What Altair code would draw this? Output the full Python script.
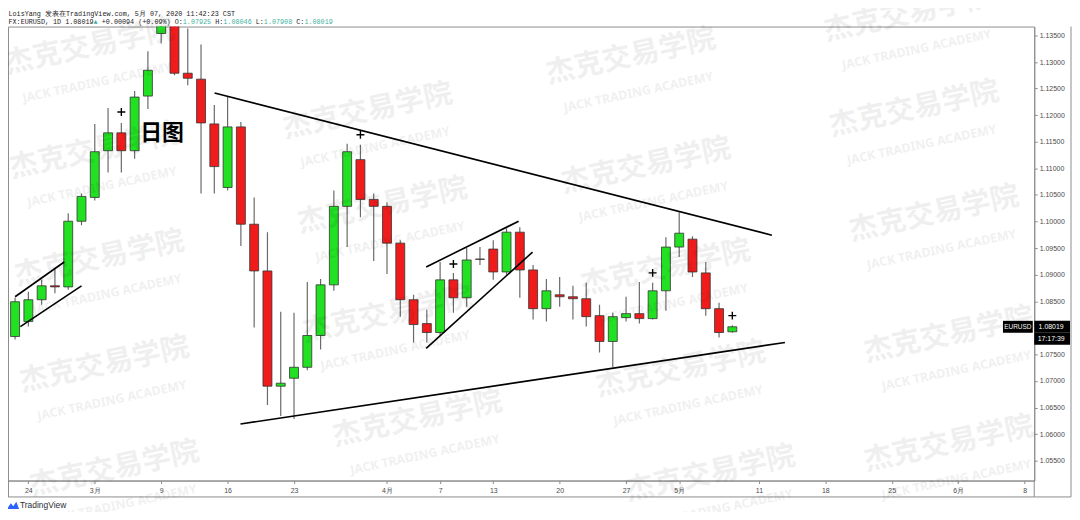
import altair as alt
import numpy as np
import pandas as pd

# ---------------- data ----------------
bar_dates = pd.bdate_range("2020-02-20", "2020-05-07").strftime("%Y-%m-%d").tolist()

opens = [1.08117, 1.07836, 1.08117, 1.08528, 1.08790, 1.08770, 1.10005, 1.10453, 1.11332, 1.11668,
         1.11332, 1.12360, 1.13537, 1.14260, 1.12790, 1.12678, 1.11836, 1.10640, 1.11780, 1.09949,
         1.09070, 1.06902, 1.07051, 1.07257, 1.07855, 1.08808, 1.10285, 1.11164, 1.10416, 1.10285,
         1.09593, 1.08528, 1.08079, 1.07911, 1.08902, 1.08565, 1.09294, 1.09481, 1.09051, 1.09799,
         1.09089, 1.08360, 1.08621, 1.08584, 1.08547, 1.08229, 1.07743, 1.08191, 1.08266, 1.08173,
         1.08696, 1.09519, 1.09668, 1.09033, 1.08360, 1.07925]
highs = [1.08191, 1.08565, 1.08677, 1.08902, 1.09100, 1.10154, 1.10528, 1.11836, 1.12135, 1.11855,
         1.12453, 1.13201, 1.14960, 1.14530, 1.13630, 1.13332, 1.12192, 1.12341, 1.11874, 1.10453,
         1.09799, 1.08304, 1.08285, 1.08864, 1.08920, 1.10584, 1.11463, 1.11444, 1.10528, 1.10360,
         1.09649, 1.08621, 1.08341, 1.09238, 1.09033, 1.09500, 1.09519, 1.09649, 1.09874, 1.09892,
         1.09180, 1.08920, 1.08958, 1.08790, 1.08846, 1.08434, 1.08285, 1.08584, 1.08864, 1.08846,
         1.09706, 1.10173, 1.09724, 1.09238, 1.08472, 1.08046]
lows = [1.07780, 1.07780, 1.08023, 1.08434, 1.08650, 1.08715, 1.09930, 1.10397, 1.10921, 1.10921,
        1.11182, 1.12117, 1.13350, 1.12752, 1.12565, 1.10528, 1.10528, 1.10584, 1.09537, 1.08005,
        1.06547, 1.06341, 1.06285, 1.07201, 1.07593, 1.08696, 1.09519, 1.10079, 1.09257, 1.09014,
        1.08210, 1.07724, 1.07724, 1.07855, 1.08285, 1.08397, 1.09182, 1.08902, 1.09000, 1.08565,
        1.08154, 1.08117, 1.08397, 1.08154, 1.08023, 1.07537, 1.07257, 1.08117, 1.08079, 1.08154,
        1.08322, 1.09332, 1.08958, 1.08229, 1.07818, 1.07908]
closes = [1.07836, 1.08491, 1.08528, 1.08790, 1.08770, 1.10005, 1.10472, 1.11313, 1.11668, 1.11332,
          1.12341, 1.12846, 1.14260, 1.12790, 1.12696, 1.11855, 1.11033, 1.11780, 1.09949, 1.09070,
          1.06902, 1.06958, 1.07257, 1.07855, 1.08808, 1.10285, 1.11313, 1.10416, 1.10285, 1.09593,
          1.08528, 1.08061, 1.07911, 1.08902, 1.08565, 1.09276, 1.09288, 1.09051, 1.09799, 1.09089,
          1.08360, 1.08696, 1.08584, 1.08547, 1.08210, 1.07743, 1.08210, 1.08266, 1.08173, 1.08696,
          1.09519, 1.09780, 1.09051, 1.08360, 1.07911, 1.08019]

tick_dates = ["2020-02-24", "2020-03-02", "2020-03-09", "2020-03-16", "2020-03-23", "2020-04-01",
              "2020-04-07", "2020-04-13", "2020-04-20", "2020-04-27", "2020-05-01", "2020-05-11",
              "2020-05-18", "2020-05-25", "2020-06-01", "2020-06-08"]
tick_labels = ["24", "3月", "9", "16", "23", "4月", "7", "13", "20", "27", "5月", "11", "18", "25", "6月", "8"]
price_ticks = [1.055, 1.060, 1.065, 1.070, 1.075, 1.080, 1.085, 1.090, 1.095, 1.100,
               1.105, 1.110, 1.115, 1.120, 1.125, 1.130, 1.135]

# trend lines: start/end in trading-day offsets from 2020-02-24 and prices
line_t1 = [14.02, 15.97, 29.95, 29.95, -1.0, -0.6]
line_p1 = [1.12416, 1.06191, 1.09145, 1.07612, 1.08584, 1.08023]
line_t2 = [55.98, 56.96, 36.91, 37.96, 2.7, 4.0]
line_p2 = [1.09743, 1.07724, 1.10005, 1.09425, 1.09238, 1.08790]

cross_dates = ["2020-03-04", "2020-03-30", "2020-04-08", "2020-04-29", "2020-05-07"]
cross_prices = [1.12061, 1.11631, 1.09201, 1.09033, 1.08229]

note_text = ["日图"]
note_t = [10.06]
note_p = [1.11668]

wm_t = [4.6, 4.97, 5.35, 5.72, 6.47, 25.54, 26.66, 27.04, 29.28, 45.36, 46.49, 47.98, 49.10, 51.35,
        66.3, 66.68, 68.18, 69.30, 69.30]
wm_p = [1.1329, 1.1133, 1.0931, 1.0731, 1.0535, 1.1208, 1.1030, 1.0825, 1.0629, 1.1311, 1.1105,
        1.0913, 1.0722, 1.0526, 1.1391, 1.1212, 1.1015, 1.0787, 1.0582]

header1 = "LoisYang 发表在TradingView.com, 5月 07, 2020 11:42:23 CST"
header2 = [("FX:EURUSD, 1D 1.08019", "#222222"), ("▲", "#3fb29f"), (" +0.00094 (+0.09%) O:", "#222222"),
           ("1.07925", "#3fb29f"), (" H:", "#222222"), ("1.08046", "#3fb29f"), (" L:", "#222222"),
           ("1.07908", "#3fb29f"), (" C:", "#222222"), ("1.08019", "#3fb29f")]

# ---------------- tables ----------------
BASE = np.datetime64("2020-02-24")


def tpos(ds):
    return np.busday_count(BASE, np.array(ds, dtype="datetime64[D]")).astype(float)


candles = pd.DataFrame({"t": tpos(bar_dates), "open": opens, "high": highs, "low": lows, "close": closes})
candles["dir"] = np.where(candles["close"] >= candles["open"], "up", "down")
tick_t = [int(v) for v in tpos(tick_dates)]
lines = pd.DataFrame({"t1": line_t1, "p1": line_p1, "t2": line_t2, "p2": line_p2})
crosses = pd.DataFrame({"t": tpos(cross_dates), "p": cross_prices})
notes = pd.DataFrame({"t": note_t, "p": note_p, "txt": note_text})
wm = pd.DataFrame({"t": wm_t, "p": wm_p})
last = pd.DataFrame({"p": [closes[-1]]})
one = pd.DataFrame({"a": [0]})

W, H = 1033, 457
xs = alt.Scale(domain=[-1.533, 75.73], nice=False, zero=False, padding=0)
ys = alt.Scale(domain=[1.051262, 1.136682], nice=False, zero=False, padding=0)
FRAME = "#8c8c8c"

vals = "[" + ",".join(str(v) for v in tick_t) + "]"
labs = "[" + ",".join("'%s'" % s for s in tick_labels) + "]"
XA = alt.Axis(values=tick_t, labelExpr=f"{labs}[indexof({vals}, datum.value)]", tickSize=3,
              labelPadding=3, labelFontSize=7, labelColor="#4a4a4a", labelFont="Liberation Sans",
              domainColor=FRAME, tickColor=FRAME, title=None, grid=False, labelFlush=False,
              labelOverlap=False)
YA = alt.Axis(orient="right", values=price_ticks, format=".5f", tickSize=3, labelPadding=2,
              labelFontSize=7, labelColor="#4a4a4a", labelFont="Liberation Sans", domainColor=FRAME,
              tickColor=FRAME, title=None, grid=False, labelFlush=False, labelOverlap=False)


def X(f):
    return alt.X(f, scale=xs, axis=XA)


def Y(f):
    return alt.Y(f, scale=ys, axis=YA)


wicks = alt.Chart(candles).mark_rule(color="#6a6a6a", strokeWidth=1.2, clip=True).encode(
    x=X("t:Q"), y=Y("low:Q"), y2="high:Q",
)
bodies = alt.Chart(candles).mark_bar(size=9, stroke="#333333", strokeWidth=0.8, clip=True).encode(
    x=X("t:Q"), y=Y("open:Q"), y2="close:Q",
    color=alt.Color("dir:N", scale=alt.Scale(domain=["up", "down"], range=["#22e022", "#f01c1c"]), legend=None),
)
trend = alt.Chart(lines).mark_rule(color="black", strokeWidth=1.6).encode(
    x=X("t1:Q"), y=Y("p1:Q"), x2="t2:Q", y2="p2:Q"
)
cross = alt.Chart(crosses).mark_point(shape="M-1,0L1,0M0,-1L0,1", size=64, stroke="black",
                                      strokeWidth=1.4, filled=False, opacity=1).encode(
    x=X("t:Q"), y=Y("p:Q")
)
note = alt.Chart(notes).mark_text(font="Noto Sans CJK SC", fontSize=22, fontWeight="bold", color="black",
                                  align="center", baseline="middle").encode(
    x=X("t:Q"), y=Y("p:Q"), text="txt:N"
)

# current price labels on the price scale
box_eur = alt.Chart(last).mark_point(shape="M-1,-0.4L1,-0.4L1,0.4L-1,0.4Z", size=900, filled=True,
                                     color="black", opacity=1).encode(x=alt.value(1016.5), y=Y("p:Q"))
box_px = alt.Chart(last).mark_point(shape="M-1,-0.333L1,-0.333L1,0.333L-1,0.333Z", size=1296, filled=True,
                                    color="black", opacity=1).encode(x=alt.value(1051), y=Y("p:Q"))
box_tm = alt.Chart(last).mark_point(shape="M-1,0.333L1,0.333L1,1L-1,1Z", size=1296, filled=True,
                                    color="black", opacity=1).encode(x=alt.value(1051), y=Y("p:Q"))
txt_eur = alt.Chart(last).mark_text(font="Liberation Sans", fontSize=6.5, color="white", align="center",
                                    baseline="middle").encode(
    x=alt.value(1016.5), y=Y("p:Q"), text=alt.value("EURUSD"))
txt_px = alt.Chart(last).mark_text(font="Liberation Sans", fontSize=7, color="white", align="center",
                                   baseline="middle").encode(
    x=alt.value(1050), y=Y("p:Q"), text=alt.Text("p:Q", format=".5f"))
txt_tm = alt.Chart(last).mark_text(font="Liberation Sans", fontSize=7, color="white", align="center",
                                   baseline="middle", dy=12).encode(
    x=alt.value(1050), y=Y("p:Q"), text=alt.value("17:17:39"))

# watermark
wm_cn = alt.Chart(wm).mark_text(font="Noto Sans CJK SC", fontSize=29, fontWeight="bold", color="black",
                                opacity=0.06, angle=348, align="center", baseline="middle").encode(
    x=X("t:Q"), y=Y("p:Q"), text=alt.value("杰克交易学院"))
wm_en = alt.Chart(wm).mark_text(font="Noto Sans", fontSize=12.5, fontWeight="bold", color="black",
                                opacity=0.055, angle=348, align="center", baseline="middle", dy=37).encode(
    x=X("t:Q"), y=Y("p:Q"), text=alt.value("JACK TRADING ACADEMY"))

# header
FS = 6.8
CW = 0.6 * FS
hdr = [alt.Chart(one).mark_text(font="Liberation Mono", fontSize=FS, color="#222222", align="left",
                                baseline="middle").encode(x=alt.value(0.5), y=alt.value(-13),
                                                          text=alt.value(header1))]
n = 0
for seg, col in header2:
    lead = len(seg) - len(seg.lstrip(" "))
    hdr.append(alt.Chart(one).mark_text(font="Liberation Mono", fontSize=FS, color=col, align="left",
                                        baseline="middle").encode(
        x=alt.value(0.5 + (n + lead) * CW), y=alt.value(-4.5), text=alt.value(seg.lstrip(" "))))
    n += len(seg)

# frame pieces below the plot
frame = [
    alt.Chart(one).mark_rule(color=FRAME, strokeWidth=1).encode(x=alt.value(0), x2=alt.value(1070),
                                                                  y=alt.value(473.5)),
    alt.Chart(one).mark_rule(color=FRAME, strokeWidth=1).encode(x=alt.value(0.5), y=alt.value(457),
                                                                  y2=alt.value(473.5)),
    alt.Chart(one).mark_rule(color=FRAME, strokeWidth=1).encode(x=alt.value(1033), y=alt.value(457),
                                                                  y2=alt.value(473.5)),
    alt.Chart(one).mark_rule(color=FRAME, strokeWidth=1).encode(x=alt.value(1070), y=alt.value(0),
                                                                  y2=alt.value(473.5)),
]
logo = [
    alt.Chart(one).mark_point(shape="M-1,0.6L-0.35,-0.35L0.05,0.15L0.55,-0.6L1,0.6Z", size=150, filled=True,
                              color="#2962ff", opacity=1).encode(x=alt.value(5), y=alt.value(482)),
    alt.Chart(one).mark_text(font="Liberation Sans", fontSize=8.5, color="#2a2e39", align="left",
                             baseline="middle").encode(x=alt.value(12), y=alt.value(482),
                                                       text=alt.value("TradingView")),
]

chart = alt.layer(
    wicks, bodies, trend, cross, note,
    box_eur, box_px, box_tm, txt_eur, txt_px, txt_tm,
    *hdr, *frame, *logo, wm_cn, wm_en,
).properties(
    width=W, height=H, background="white",
    padding={"left": 0, "top": 17, "right": 38, "bottom": 30},
    autosize=alt.AutoSizeParams(type="none"),
).configure_view(stroke=FRAME, strokeWidth=1)

chart.save("out.html", embed_options={"renderer": "svg", "actions": False})
